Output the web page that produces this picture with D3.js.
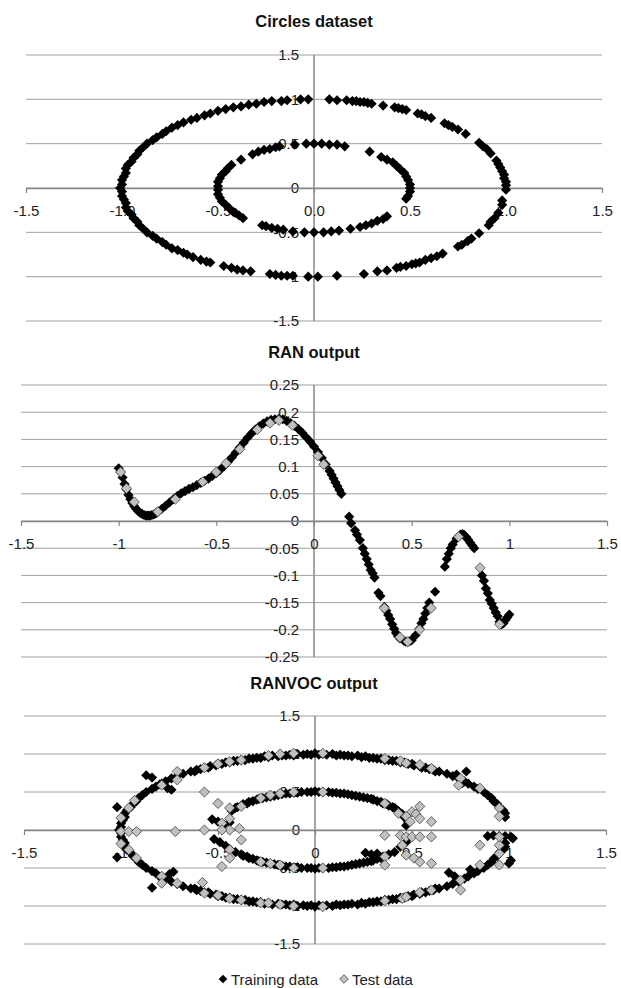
<!DOCTYPE html>
<html>
<head>
<meta charset="utf-8">
<script src="https://cdn.jsdelivr.net/npm/d3@7"></script>
<style>body{margin:0;background:#fff}</style>
</head>
<body>
<script>
// ---- data ----
var circlesOuter=[[0.08,1.00],[0.12,0.99],[0.17,0.99],[0.20,0.98],[0.22,0.98],[0.24,0.97],[0.26,0.97],[0.28,0.96],[0.30,0.95],[0.36,0.93],[0.42,0.91],[0.44,0.90],[0.46,0.89],[0.48,0.88],[0.54,0.84],[0.56,0.83],[0.58,0.81],[0.61,0.79],[0.68,0.73],[0.70,0.71],[0.72,0.69],[0.75,0.66],[0.79,0.61],[0.86,0.51],[0.88,0.47],[0.90,0.44],[0.92,0.39],[0.95,0.31],[0.96,0.27],[0.97,0.23],[0.98,0.19],[0.99,0.15],[0.99,0.11],[1.00,0.07],[1.00,0.03],[1.00,-0.02],
  [0.98,-0.14],[0.98,-0.19],[0.96,-0.28],[0.94,-0.34],[0.92,-0.38],[0.91,-0.42],[0.86,-0.51],[0.82,-0.57],[0.80,-0.60],[0.77,-0.64],[0.75,-0.66],[0.67,-0.74],[0.64,-0.77],[0.61,-0.79],[0.58,-0.81],[0.55,-0.84],[0.53,-0.85],[0.51,-0.86],[0.48,-0.88],[0.45,-0.89],[0.43,-0.90],[0.38,-0.93],[0.33,-0.94],[0.26,-0.97],[0.12,-0.99],[0.02,-1.00],[-0.03,-1.00],
  [-0.11,-0.99],[-0.14,-0.99],[-0.17,-0.99],[-0.20,-0.98],[-0.23,-0.97],[-0.33,-0.94],[-0.37,-0.93],[-0.40,-0.92],[-0.43,-0.90],[-0.47,-0.88],[-0.54,-0.84],[-0.56,-0.83],[-0.59,-0.81],[-0.63,-0.78],[-0.66,-0.75],[-0.68,-0.73],
  [-0.71,-0.70],[-0.74,-0.68],[-0.77,-0.64],[-0.79,-0.61],[-0.82,-0.57],[-0.84,-0.54],[-0.87,-0.50],[-0.89,-0.46],[-0.91,-0.42],[-0.92,-0.38],[-0.94,-0.34],[-0.95,-0.30],[-0.97,-0.26],[-0.98,-0.22],[-0.98,-0.17],[-0.99,-0.13],[-1.00,-0.09],[-1.00,-0.04],[-1.01,0.00],[-1.00,0.04],[-1.00,0.09],[-0.99,0.13],[-0.98,0.17],[-0.98,0.22],[-0.97,0.26],[-0.95,0.30],[-0.94,0.34],[-0.92,0.38],[-0.91,0.42],[-0.89,0.46],[-0.87,0.50],[-0.84,0.54],[-0.82,0.57],[-0.79,0.61],[-0.77,0.64],[-0.74,0.68],[-0.71,0.71],[-0.68,0.74],[-0.64,0.77],[-0.61,0.79],[-0.57,0.82],[-0.54,0.84],[-0.50,0.87],[-0.46,0.89],[-0.42,0.91],[-0.38,0.92],[-0.34,0.94],[-0.30,0.95],[-0.26,0.97],[-0.22,0.98],[-0.17,0.98],[-0.14,0.99],[-0.07,1.00],[-0.03,1.00]]
var circlesInner=[[0.00,0.50],[0.04,0.50],[0.08,0.49],[0.12,0.49],[0.16,0.47],[0.29,0.41],[0.35,0.35],[0.38,0.32],[0.41,0.29],[0.43,0.25],[0.45,0.21],[0.47,0.17],[0.48,0.13],[0.49,0.09],[0.50,0.04],[0.50,0.00],[0.50,-0.04],[0.49,-0.09],[0.48,-0.12],[0.38,-0.32],[0.36,-0.35],[0.33,-0.37],[0.30,-0.40],[0.27,-0.42],[0.24,-0.44],[0.19,-0.46],[0.13,-0.48],[0.09,-0.49],[0.05,-0.50],[0.00,-0.50],[-0.05,-0.50],[-0.11,-0.49],[-0.16,-0.47],[-0.19,-0.46],[-0.22,-0.45],[-0.25,-0.43],[-0.27,-0.42],[-0.37,-0.34],[-0.39,-0.31],[-0.41,-0.28],[-0.42,-0.27],[-0.44,-0.23],[-0.46,-0.19],[-0.48,-0.15],[-0.49,-0.11],[-0.50,-0.07],[-0.50,-0.02],[-0.50,0.02],[-0.50,0.07],[-0.49,0.11],[-0.48,0.15],[-0.46,0.19],[-0.45,0.22],[-0.43,0.26],[-0.38,0.32],[-0.32,0.38],[-0.29,0.41],[-0.26,0.43],[-0.23,0.44],[-0.20,0.46],[-0.18,0.47],[-0.10,0.49],[-0.04,0.50]]

var ranTrain=[[-1.00,0.097],[-0.99,0.090],[-0.98,0.080],[-0.97,0.068],[-0.96,0.058],[-0.95,0.048],[-0.94,0.040],[-0.93,0.033],[-0.92,0.027],[-0.91,0.022],[-0.90,0.018],[-0.89,0.015],[-0.88,0.013],[-0.87,0.011],[-0.86,0.010],[-0.85,0.010],[-0.84,0.010],[-0.83,0.011],[-0.82,0.012],[-0.81,0.014],[-0.80,0.017],[-0.78,0.022],[-0.76,0.028],[-0.74,0.034],[-0.72,0.040],[-0.70,0.046],[-0.68,0.051],[-0.66,0.055],[-0.64,0.059],[-0.62,0.062],[-0.60,0.066],[-0.58,0.070],[-0.56,0.074],[-0.54,0.078],[-0.52,0.083],[-0.50,0.088],[-0.48,0.094],[-0.46,0.101],[-0.44,0.109],[-0.42,0.117],[-0.40,0.126],[-0.38,0.135],[-0.36,0.144],[-0.34,0.153],[-0.32,0.161],[-0.30,0.168],[-0.28,0.174],[-0.26,0.179],[-0.24,0.183],[-0.22,0.186],[-0.20,0.187],[-0.18,0.188],[-0.16,0.187],[-0.14,0.184],[-0.12,0.180],[-0.10,0.175],[-0.08,0.169],[-0.06,0.162],[-0.04,0.154],[-0.02,0.146],[0.00,0.137],[0.02,0.127],[0.04,0.116],[0.06,0.104],[0.08,0.092],[0.09,0.085],[0.10,0.078],[0.11,0.071],[0.12,0.064],[0.13,0.057],[0.14,0.050],[0.18,0.008],[0.19,-0.004],[0.21,-0.017],[0.22,-0.025],[0.235,-0.035],[0.25,-0.050],[0.26,-0.060],[0.27,-0.070],[0.28,-0.080],[0.29,-0.090],[0.30,-0.096],[0.31,-0.104],[0.33,-0.132],[0.34,-0.138],[0.36,-0.158],[0.37,-0.165],[0.38,-0.173],[0.39,-0.180],[0.40,-0.190],[0.41,-0.198],[0.42,-0.206],[0.43,-0.212],[0.44,-0.216],[0.46,-0.220],[0.47,-0.222],[0.48,-0.222],[0.49,-0.221],[0.50,-0.219],[0.52,-0.210],[0.54,-0.198],[0.55,-0.188],[0.56,-0.180],[0.57,-0.170],[0.58,-0.160],[0.59,-0.150],[0.62,-0.130],[0.67,-0.084],[0.68,-0.070],[0.69,-0.060],[0.70,-0.050],[0.71,-0.043],[0.73,-0.032],[0.75,-0.025],[0.76,-0.024],[0.77,-0.026],[0.78,-0.030],[0.79,-0.035],[0.80,-0.040],[0.81,-0.045],[0.82,-0.050],[0.86,-0.100],[0.87,-0.110],[0.88,-0.124],[0.89,-0.133],[0.90,-0.145],[0.91,-0.152],[0.92,-0.160],[0.93,-0.168],[0.94,-0.175],[0.95,-0.185],[0.96,-0.190],[0.97,-0.188],[0.98,-0.182],[0.99,-0.177],[1.00,-0.172]]
var ranTest=[[-0.99,0.090],[-0.96,0.060],[-0.92,0.035],[-0.80,0.017],[-0.71,0.040],[-0.57,0.072],[-0.50,0.090],[-0.45,0.106],[-0.38,0.132],[-0.29,0.168],[-0.225,0.180],[-0.18,0.185],[-0.11,0.176],[0.02,0.120],[0.05,0.104],[0.36,-0.160],[0.44,-0.214],[0.48,-0.222],[0.54,-0.200],[0.60,-0.160],[0.74,-0.029],[0.85,-0.086],[0.95,-0.190]]

var vocTrain=[[0.98,0.17],[0.98,0.22],[0.97,0.26],[0.95,0.30],[0.94,0.34],[0.92,0.38],[0.91,0.42],[0.89,0.46],[0.87,0.50],[0.84,0.54],[0.82,0.57],[0.79,0.61],[0.77,0.64],[0.74,0.68],[0.71,0.71],[0.68,0.74],[0.64,0.77],[0.61,0.79],[0.57,0.82],[0.54,0.84],[0.50,0.87],[0.46,0.89],[0.42,0.91],[0.38,0.92],[0.34,0.94],[0.30,0.95],[0.26,0.97],[0.22,0.98],[0.17,0.98],[0.13,0.99],[0.09,1.00],[0.04,1.00],[0.00,1.01],
  [-0.04,1.00],[-0.09,1.00],[-0.13,0.99],[-0.17,0.98],[-0.22,0.98],[-0.26,0.97],[-0.30,0.95],[-0.34,0.94],[-0.38,0.92],[-0.42,0.91],[-0.46,0.89],[-0.50,0.87],[-0.54,0.84],[-0.57,0.82],[-0.61,0.79],[-0.64,0.77],[-0.68,0.74],[-0.71,0.71],[-0.74,0.68],[-0.77,0.64],[-0.79,0.61],[-0.82,0.57],[-0.84,0.54],[-0.87,0.50],[-0.89,0.46],[-0.91,0.42],[-0.92,0.38],[-0.94,0.34],[-0.95,0.30],[-0.97,0.26],[-0.98,0.22],[-0.98,0.17],[-0.99,0.13],[-1.00,0.09],[-1.00,0.04],[-1.01,0.00],
  [-1.00,-0.04],[-1.00,-0.09],[-0.99,-0.13],[-0.98,-0.17],[-0.98,-0.22],[-0.97,-0.26],[-0.95,-0.30],[-0.94,-0.34],[-0.92,-0.38],[-0.91,-0.42],[-0.89,-0.46],[-0.87,-0.50],[-0.84,-0.54],[-0.82,-0.57],[-0.79,-0.61],[-0.77,-0.64],[-0.74,-0.68],[-0.71,-0.71],[-0.68,-0.74],[-0.64,-0.77],[-0.61,-0.79],[-0.57,-0.82],[-0.54,-0.84],[-0.50,-0.87],[-0.46,-0.89],[-0.42,-0.91],[-0.38,-0.92],[-0.34,-0.94],[-0.30,-0.95],[-0.26,-0.97],[-0.22,-0.98],[-0.17,-0.98],[-0.13,-0.99],[-0.09,-1.00],[-0.04,-1.00],[0.00,-1.01],
  [0.04,-1.00],[0.09,-1.00],[0.13,-0.99],[0.17,-0.98],[0.22,-0.98],[0.26,-0.97],[0.30,-0.95],[0.34,-0.94],[0.38,-0.92],[0.42,-0.91],[0.46,-0.89],[0.50,-0.87],[0.54,-0.84],[0.57,-0.82],[0.61,-0.79],[0.64,-0.77],[0.68,-0.74],[0.71,-0.71],[0.74,-0.68],[0.77,-0.64],[0.79,-0.61],[0.82,-0.57],[0.84,-0.54],[0.87,-0.50],[0.89,-0.46],[0.91,-0.42],[0.92,-0.38],[0.94,-0.34],[0.95,-0.30],[0.97,-0.26],[0.98,-0.22],[0.98,-0.17],
  [0.62,0.77],[0.59,0.80],[0.55,0.82],[0.51,0.85],[0.48,0.87],[0.44,0.89],[0.40,0.91],[0.36,0.92],[0.32,0.94],[0.28,0.95],[0.24,0.96],[0.19,0.97],[0.15,0.98],[0.11,0.98],[0.06,0.99],[0.02,0.99],
  [-0.62,0.77],[-0.59,0.80],[-0.55,0.82],[-0.51,0.85],[-0.48,0.87],[-0.44,0.89],[-0.40,0.91],[-0.36,0.92],[-0.32,0.94],[-0.28,0.95],[-0.24,0.96],[-0.19,0.97],[-0.15,0.98],[-0.11,0.98],[-0.06,0.99],[-0.02,0.99],
  [-0.62,-0.77],[-0.59,-0.80],[-0.55,-0.82],[-0.51,-0.85],[-0.48,-0.87],[-0.44,-0.89],[-0.40,-0.91],[-0.36,-0.92],[-0.32,-0.94],[-0.28,-0.95],[-0.24,-0.96],[-0.19,-0.97],[-0.15,-0.98],[-0.11,-0.98],[-0.06,-0.99],[-0.02,-0.99],
  [0.62,-0.77],[0.59,-0.80],[0.55,-0.82],[0.51,-0.85],[0.48,-0.87],[0.44,-0.89],[0.40,-0.91],[0.36,-0.92],[0.32,-0.94],[0.28,-0.95],[0.24,-0.96],[0.19,-0.97],[0.15,-0.98],[0.11,-0.98],[0.06,-0.99],[0.02,-0.99],
  [1.00,-0.44],[1.01,-0.40],[0.89,-0.08],[0.92,-0.07],[0.95,-0.08],[0.98,-0.08],[1.01,-0.09],[1.02,-0.11],
  [-0.87,0.72],[-0.84,0.69],[-0.80,0.60],[-0.76,0.55],[-0.74,0.53],[-1.02,0.30],[-1.02,-0.36],[-0.84,-0.76],[-0.79,-0.64],[-0.75,-0.58],[-0.73,-0.55],[0.78,0.77],[0.73,0.73],[0.76,0.62],[0.69,-0.56],[0.72,-0.61],[0.80,-0.52],
  [0.45,0.21],[0.43,0.25],[0.41,0.29],[0.38,0.32],[0.35,0.35],[0.32,0.38],[0.29,0.41],[0.25,0.43],[0.21,0.45],[0.17,0.47],[0.13,0.48],[0.09,0.49],[0.04,0.50],[0.00,0.51],[-0.04,0.50],[-0.09,0.49],[-0.13,0.48],[-0.17,0.47],[-0.21,0.45],[-0.25,0.43],[-0.29,0.41],[-0.32,0.38],[-0.35,0.35],[-0.38,0.32],[-0.41,0.29],[-0.43,0.25],
  [0.42,0.27],[0.40,0.30],[0.37,0.34],[0.34,0.37],[0.30,0.40],[0.27,0.42],[0.23,0.44],[0.19,0.46],[0.15,0.48],[0.11,0.49],[0.07,0.50],[0.02,0.50],[-0.02,0.50],[-0.07,0.50],[-0.11,0.49],[-0.15,0.48],[-0.19,0.46],[-0.23,0.44],[-0.27,0.42],[-0.30,0.40],[-0.34,0.37],[-0.37,0.34],[-0.40,0.30],
  [-0.41,-0.29],[-0.38,-0.32],[-0.35,-0.35],[-0.32,-0.38],[-0.29,-0.41],[-0.25,-0.43],[-0.21,-0.45],[-0.17,-0.47],[-0.13,-0.48],[-0.09,-0.49],[-0.04,-0.50],[0.00,-0.51],[0.04,-0.50],[0.09,-0.49],[0.13,-0.48],[0.17,-0.47],[0.21,-0.45],[0.25,-0.43],[0.29,-0.41],[0.32,-0.38],[0.35,-0.35],[0.38,-0.32],[0.41,-0.29],
  [-0.37,-0.34],[-0.34,-0.37],[-0.30,-0.40],[-0.27,-0.42],[-0.23,-0.44],[-0.19,-0.46],[-0.15,-0.48],[-0.11,-0.49],[-0.07,-0.50],[-0.02,-0.50],[0.02,-0.50],[0.07,-0.50],[0.11,-0.49],[0.15,-0.48],[0.19,-0.46],[0.23,-0.44],[0.27,-0.42],[0.30,-0.40],[0.34,-0.37],
  [-0.53,0.14],[-0.50,0.11],[-0.47,0.07],[-0.44,0.10],[-0.52,-0.12],[-0.49,-0.16],[-0.46,-0.21],[-0.44,-0.25],[0.26,-0.30],[0.29,-0.32],[0.32,-0.31],[0.44,-0.22],[0.47,-0.16],[0.48,-0.11],[0.46,0.17],[0.48,0.11],[0.47,0.06]]
var vocTest=[[-0.11,1.01],[-0.18,1.00],[-0.24,0.98],[-0.38,0.92],[-0.44,0.90],[-0.50,0.87],[-0.57,0.82],[-0.71,0.77],[-0.71,0.66],[-0.79,0.59],[-0.93,0.39],[-0.96,0.29],[-1.00,0.16],[-1.00,-0.02],[-0.96,-0.02],[-0.92,-0.02],[-1.00,-0.18],[-0.96,-0.26],[-0.92,-0.37],[-0.79,-0.61],[-0.79,-0.70],[-0.71,-0.70],[-0.58,-0.69],[-0.57,-0.83],[-0.50,-0.86],[-0.44,-0.90],[-0.38,-0.92],[-0.28,-0.96],[-0.24,-0.96],[-0.18,-0.98],[-0.11,-1.00],
  [0.04,1.01],[0.36,0.94],[0.44,0.91],[0.47,0.88],[0.54,0.86],[0.60,0.81],[0.75,0.68],[0.74,0.59],[0.85,0.55],[0.95,0.29],[0.95,0.18],[0.04,-1.01],[0.36,-0.93],[0.45,-0.90],[0.47,-0.88],[0.54,-0.82],[0.60,-0.79],[0.75,-0.79],[0.75,-0.66],[0.85,-0.46],[0.95,-0.46],[0.95,-0.31],[0.95,-0.20],[0.95,-0.09],[0.85,-0.20],
  [-0.11,0.50],[-0.18,0.48],[-0.23,0.46],[-0.28,0.42],[-0.38,0.31],[-0.44,0.29],[-0.50,0.35],[-0.57,0.50],[-0.44,0.15],[-0.48,0.09],[-0.39,0.02],[-0.44,0.00],[-0.48,0.00],[-0.57,0.00],[-0.72,-0.02],[-0.38,-0.13],[-0.44,-0.26],[-0.44,-0.37],[-0.48,-0.48],[-0.28,-0.42],[-0.23,-0.44],[-0.18,-0.46],[-0.11,-0.50],
  [0.04,0.50],[0.36,0.35],[0.43,0.22],[0.47,0.18],[0.54,0.31],[0.50,0.24],[0.52,0.21],[0.54,0.15],[0.60,0.11],[0.49,0.11],[0.36,-0.07],[0.44,-0.07],[0.47,-0.09],[0.50,-0.09],[0.54,-0.09],[0.60,-0.09],[0.45,-0.20],[0.36,-0.35],[0.36,-0.46],[0.47,-0.33],[0.51,-0.37],[0.54,-0.42],[0.60,-0.44],[0.04,-0.50]]

var xTicks=[-1.5,-1,-0.5,0,0.5,1,1.5]
var yTicksCircle=[-1.5,-1,-0.5,0,0.5,1,1.5]
var yTicksRan=[-0.25,-0.2,-0.15,-0.1,-0.05,0,0.05,0.1,0.15,0.2,0.25]
var titles=["Circles dataset","RAN output","RANVOC output"]
var legendNames=["Training data","Test data"]

// ---- drawing ----
var svg=d3.select("body").append("svg")
          .attr("width",621)
          .attr("height",988)
          .style("font-family","'Liberation Sans',Arial,sans-serif")

var numFmt=function(d){return String(+d.toFixed(2))}
var diamond=d3.symbol(d3.symbolDiamond2,66)

var drawChart=function(c)
{
  var x=d3.scaleLinear().domain([-1.5,1.5]).range(c.xr)
  var y=d3.scaleLinear().domain([c.yTicks[0],c.yTicks[c.yTicks.length-1]]).range(c.yr)
  var g=svg.append("g")
  g.append("text")
   .attr("x",314)
   .attr("y",c.titleY)
   .attr("text-anchor","middle")
   .attr("font-weight","bold")
   .attr("font-size","16.5px")
   .attr("fill","#111")
   .text(c.title)
  // gridlines
  g.selectAll("line.grid")
   .data(c.yTicks)
   .enter()
   .append("line")
   .attr("class","grid")
   .attr("x1",c.xr[0])
   .attr("x2",c.xr[1])
   .attr("y1",function(d){return y(d)})
   .attr("y2",function(d){return y(d)})
   .attr("stroke","#a0a0a0")
   .attr("stroke-width",1)
  // y labels left of the vertical axis
  var ya=d3.axisLeft(y).tickValues(c.yTicks).tickSize(0).tickPadding(15).tickFormat(numFmt)
  var yg=g.append("g").attr("transform","translate("+x(0)+",0)").call(ya)
  yg.select(".domain").remove()
  yg.selectAll("text").attr("font-size","15px").attr("font-family","'Liberation Sans',Arial,sans-serif").attr("fill","#222")
  // vertical axis line
  g.append("line")
   .attr("x1",x(0)).attr("x2",x(0))
   .attr("y1",c.yr[1]).attr("y2",c.yr[0])
   .attr("stroke","#868686")
   .attr("stroke-width",1.5)
  // x axis
  var xa=d3.axisBottom(x).tickValues(xTicks).tickSize(5).tickSizeOuter(0).tickFormat(c.xf)
  var xg=g.append("g").attr("transform","translate(0,"+y(0)+")").call(xa)
  xg.select(".domain").attr("stroke","#868686").attr("stroke-width",1.5)
  xg.selectAll(".tick line").attr("stroke","#868686").attr("stroke-width",1.2)
  xg.selectAll("text").attr("y",17).attr("font-size","15px").attr("font-family","'Liberation Sans',Arial,sans-serif").attr("fill","#222")
  // points
  g.selectAll("path.train")
   .data(c.train)
   .enter()
   .append("path")
   .attr("class","train")
   .attr("transform",function(d){return "translate("+x(d[0])+","+y(d[1])+")"})
   .attr("d",diamond)
   .attr("fill","#000")
  if(c.test){
    g.selectAll("path.test")
     .data(c.test)
     .enter()
     .append("path")
     .attr("class","test")
     .attr("transform",function(d){return "translate("+x(d[0])+","+y(d[1])+")"})
     .attr("d",diamond)
     .attr("fill","#c0c0c0")
     .attr("stroke","#404040")
     .attr("stroke-width",0.8)
  }
}

drawChart({title:titles[0],titleY:27,xr:[26,602],yr:[321,55],yTicks:yTicksCircle,
  xf:function(d){return d.toFixed(1)},train:circlesOuter.concat(circlesInner)})
drawChart({title:titles[1],titleY:358,xr:[21,607],yr:[657,385],yTicks:yTicksRan,
  xf:numFmt,train:ranTrain,test:ranTest})
drawChart({title:titles[2],titleY:689,xr:[24,606],yr:[944,716],yTicks:yTicksCircle,
  xf:numFmt,train:vocTrain,test:vocTest})

// legend
var legend=svg.append("g").attr("transform","translate(0,979)")
var legX=[223,344]
legend.selectAll("path")
      .data(legendNames)
      .enter()
      .append("path")
      .attr("transform",function(d,i){return "translate("+legX[i]+",0)"})
      .attr("d",d3.symbol(d3.symbolDiamond2,48))
      .attr("fill",function(d,i){return i==0?"#000":"#c0c0c0"})
      .attr("stroke",function(d,i){return i==0?"none":"#404040"})
      .attr("stroke-width",0.8)
legend.selectAll("text")
      .data(legendNames)
      .enter()
      .append("text")
      .attr("x",function(d,i){return legX[i]+8})
      .attr("y",5.5)
      .attr("font-size","15px")
      .attr("fill","#222")
      .text(function(d){return d})
</script>
</body>
</html>
